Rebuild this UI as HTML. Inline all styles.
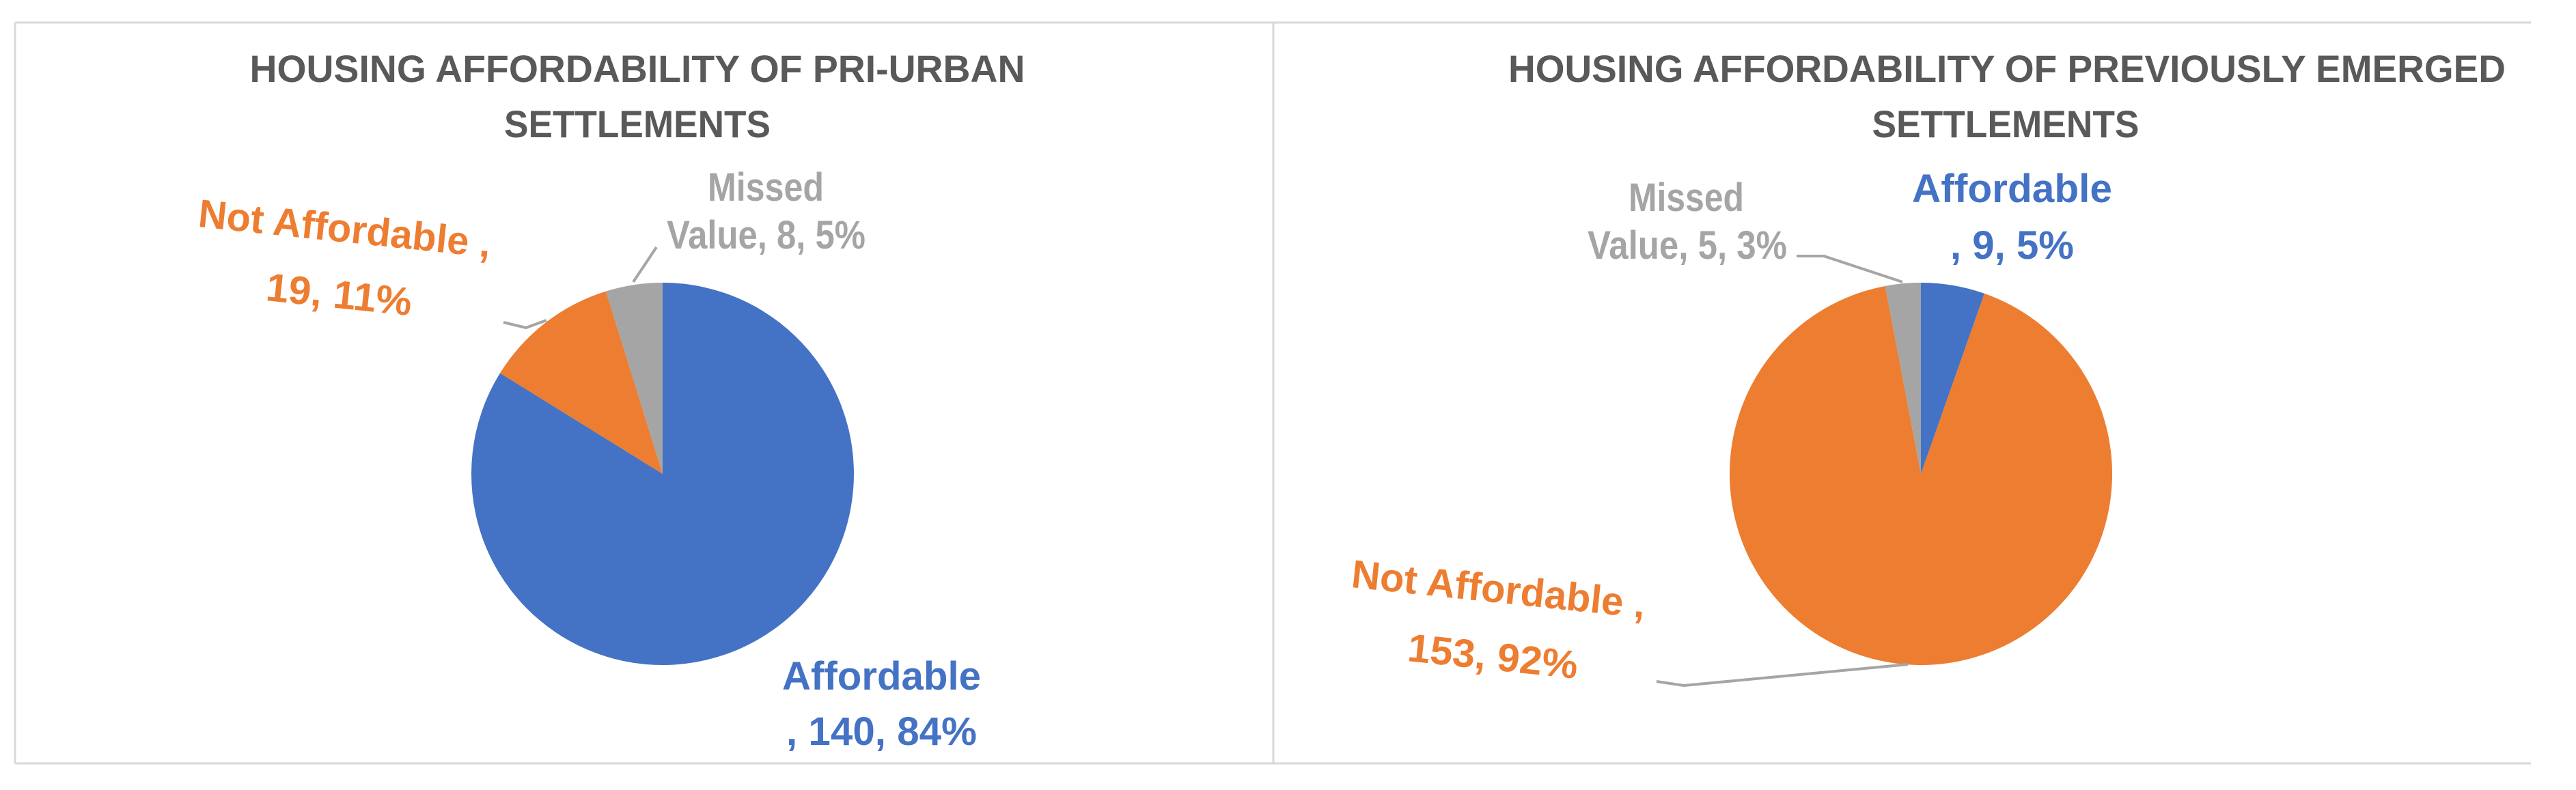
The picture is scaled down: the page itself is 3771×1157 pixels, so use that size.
<!DOCTYPE html>
<html><head><meta charset="utf-8"><style>
html,body{margin:0;padding:0;background:#fff;}
svg{display:block;font-family:"Liberation Sans",sans-serif;font-weight:bold;}
</style></head><body>
<svg id="chart" width="3771" height="1157" viewBox="0 0 3771 1157">
<rect width="3771" height="1157" fill="#fff"/>
<g stroke="#d9d9d9" stroke-width="3" fill="none">
<line x1="22" y1="33" x2="3705" y2="33"/>
<line x1="22" y1="1118" x2="3705" y2="1118"/>
<line x1="22" y1="33" x2="22" y2="1118"/>
<line x1="1864" y1="33" x2="1864" y2="1118"/>
</g>
<g fill="#595959" font-size="56" text-anchor="middle">
<text x="933" y="120" textLength="1135" lengthAdjust="spacingAndGlyphs">HOUSING AFFORDABILITY OF PRI-URBAN</text>
<text x="933" y="201" textLength="390" lengthAdjust="spacingAndGlyphs">SETTLEMENTS</text>
</g>
<g fill="#595959" font-size="56" text-anchor="middle">
<text x="2938" y="120" textLength="1460" lengthAdjust="spacingAndGlyphs">HOUSING AFFORDABILITY OF PREVIOUSLY EMERGED</text>
<text x="2936" y="201" textLength="391" lengthAdjust="spacingAndGlyphs">SETTLEMENTS</text>
</g>
<g id="pies"></g>
<g stroke="#a5a5a5" stroke-width="4" fill="none">
<polyline points="961,362 927,413"/>
<polyline points="737,472 770,480 800,469"/>
<polyline points="2630,375 2670,375 2785,413"/>
<polyline points="2425,998 2465,1004 2793,973"/>
</g>
<g font-size="58">
<text fill="#a5a5a5" x="1036" y="294" textLength="170" lengthAdjust="spacingAndGlyphs">Missed</text>
<text fill="#a5a5a5" x="976" y="364" textLength="291" lengthAdjust="spacingAndGlyphs">Value, 8, 5%</text>
<text fill="#ED7D31" x="291" y="332" textLength="430" lengthAdjust="spacingAndGlyphs" transform="rotate(6 291 310)">Not Affordable ,</text>
<text fill="#ED7D31" x="390" y="440" textLength="214" lengthAdjust="spacingAndGlyphs" transform="rotate(6 390 420)">19, 11%</text>
<text fill="#4472C4" x="1145" y="1010" textLength="291" lengthAdjust="spacingAndGlyphs">Affordable</text>
<text fill="#4472C4" x="1151" y="1091" textLength="279" lengthAdjust="spacingAndGlyphs">, 140, 84%</text>
</g>
<g font-size="58">
<text fill="#a5a5a5" x="2384" y="309" textLength="169" lengthAdjust="spacingAndGlyphs">Missed</text>
<text fill="#a5a5a5" x="2324" y="379" textLength="292" lengthAdjust="spacingAndGlyphs">Value, 5, 3%</text>
<text fill="#4472C4" x="2799" y="296" textLength="293" lengthAdjust="spacingAndGlyphs">Affordable</text>
<text fill="#4472C4" x="2855" y="379" textLength="181" lengthAdjust="spacingAndGlyphs">, 9, 5%</text>
<text fill="#ED7D31" x="1979" y="860" textLength="432" lengthAdjust="spacingAndGlyphs" transform="rotate(6 1979 840)">Not Affordable ,</text>
<text fill="#ED7D31" x="2061" y="968" textLength="250" lengthAdjust="spacingAndGlyphs" transform="rotate(6 2061 950)">153, 92%</text>
</g>
</svg>
<script>
const categories = ["Affordable", "Not Affordable", "Missed Value"];
const periUrbanValues = [140, 19, 8];
const previouslyEmergedValues = [9, 153, 5];
const sliceColors = ["#4472C4", "#ED7D31", "#A5A5A5"];

function drawPie(values, cx, cy, r, prefix) {
  const g = document.getElementById('pies');
  const total = values.reduce((a, b) => a + b, 0);
  let a0 = 0;
  values.forEach((v, i) => {
    const a1 = a0 + v / total * Math.PI * 2;
    const x0 = cx + r * Math.sin(a0), y0 = cy - r * Math.cos(a0);
    const x1 = cx + r * Math.sin(a1), y1 = cy - r * Math.cos(a1);
    const large = (a1 - a0) > Math.PI ? 1 : 0;
    const p = document.createElementNS('http://www.w3.org/2000/svg', 'path');
    p.setAttribute('d', `M${cx},${cy} L${x0},${y0} A${r},${r} 0 ${large} 1 ${x1},${y1} Z`);
    p.setAttribute('fill', sliceColors[i]);
    
    
    g.appendChild(p);
    a0 = a1;
  });
}
drawPie(periUrbanValues, 970, 694, 280, 'peri-urban');
drawPie(previouslyEmergedValues, 2812, 694, 280, 'previously-emerged');
</script>
</body></html>
